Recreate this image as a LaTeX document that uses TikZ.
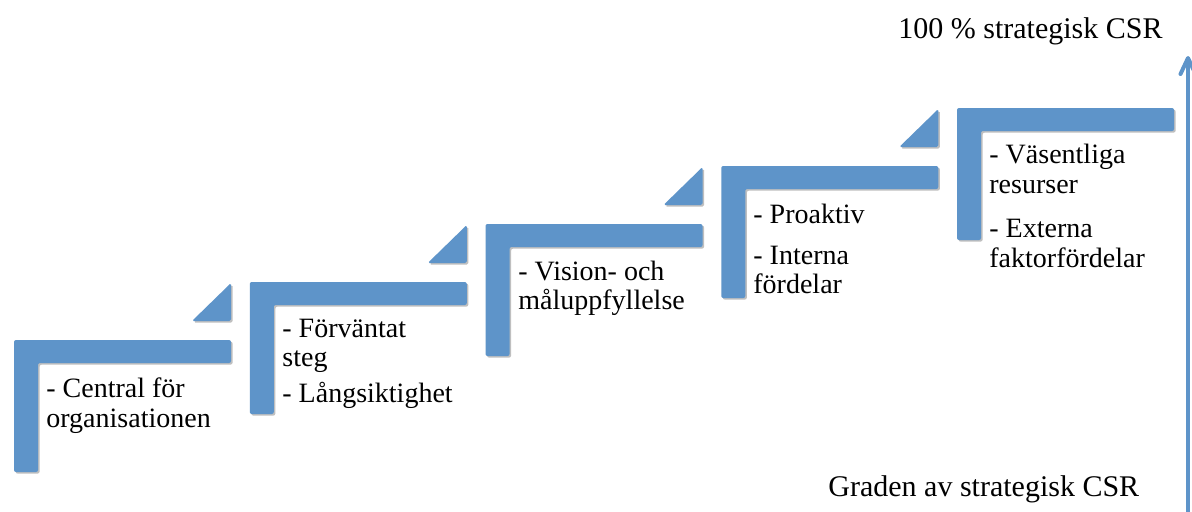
\documentclass[tikz,border=0pt]{standalone}
\usepackage{fontspec}
\setmainfont{Liberation Serif}
\usepackage{xcolor}
\definecolor{StepBlue}{HTML}{5E94C9}
\usetikzlibrary{arrows.meta, shadows}

\begin{document}
\begin{tikzpicture}[
  x=0.5pt, y=-0.5pt,
  % === GRUNDSTILE ===
  % Stufe (L-Form)
  stepshape/.style={
    fill=StepBlue,
    rounded corners=1pt,
    drop shadow={shadow xshift=0.8pt, shadow yshift=-0.8pt, opacity=0.25, fill=black}
  },
  % Dreieck an der Stufenkante
  stepcorner/.style={
    fill=StepBlue,
    rounded corners=0.8pt,
    drop shadow={shadow xshift=0.8pt, shadow yshift=-0.8pt, opacity=0.25, fill=black}
  },
  % Texte
  steptext/.style={
    anchor=base west,
    inner sep=0pt,
    font=\fontsize{14}{16}\selectfont
  },
  axislbl/.style={
    anchor=base west,
    inner sep=0pt,
    font=\fontsize{15}{17}\selectfont
  },
  % Pfeil
  gradarrow/.style={
    draw=StepBlue,
    line width=2pt,
    line cap=round,
    -{Straight Barb[length=8pt, width=7.5pt, round]}
  }
]

% =============================================================================
% HINTERGRUND
% =============================================================================
\fill[white] (0,0) rectangle (1192,511);
\useasboundingbox (0,0) rectangle (1192,511);

% =============================================================================
% STUFEN
% =============================================================================
\foreach \i in {0,...,4} {
  \pgfmathsetmacro{\sx}{14+235.75*\i}
  \pgfmathsetmacro{\sy}{340-58*\i}
  \fill[stepshape] (\sx,\sy) -- ++(217,0) -- ++(0,23) -- ++(-193,0)
        -- ++(0,109) -- ++(-24,0) -- cycle;
}

% --- Dreiecke ---
\foreach \i in {1,...,4} {
  \pgfmathsetmacro{\tx}{14+235.75*(\i-1)+217}
  \pgfmathsetmacro{\ty}{340-58*\i+1}
  \fill[stepcorner] (\tx,\ty) -- ++(0,38) -- ++(-39,0) -- cycle;
}

% =============================================================================
% TEXTE DER STUFEN
% =============================================================================
% Stufe 1
\node[steptext] (s1a) at (46,397) {- Central för};
\node[steptext] (s1b) at (46,427) {organisationen};

% Stufe 2
\node[steptext] (s2a) at (282,337) {- Förväntat};
\node[steptext] (s2b) at (282,366) {steg};
\node[steptext] (s2c) at (282,402) {- Långsiktighet};

% Stufe 3
\node[steptext] (s3a) at (518,280) {- Vision- och};
\node[steptext] (s3b) at (518,309) {måluppfyllelse};

% Stufe 4
\node[steptext] (s4a) at (753,223) {- Proaktiv};
\node[steptext] (s4b) at (753,264) {- Interna};
\node[steptext] (s4c) at (753,293) {fördelar};

% Stufe 5
\node[steptext] (s5a) at (989,163) {- Väsentliga};
\node[steptext] (s5b) at (989,193) {resurser};
\node[steptext] (s5c) at (989,237) {- Externa};
\node[steptext] (s5d) at (989,267) {faktorfördelar};

% =============================================================================
% ACHSE
% =============================================================================
\coordinate (axisbot) at (1188,515);
\coordinate (axistop) at (1188,56);
\draw[gradarrow] (axisbot) -- (axistop);

\node[axislbl] (toplbl) at (898,38) {100 \% strategisk CSR};
\node[axislbl] (botlbl) at (828,496) {Graden av strategisk CSR};

\end{tikzpicture}
\end{document}
